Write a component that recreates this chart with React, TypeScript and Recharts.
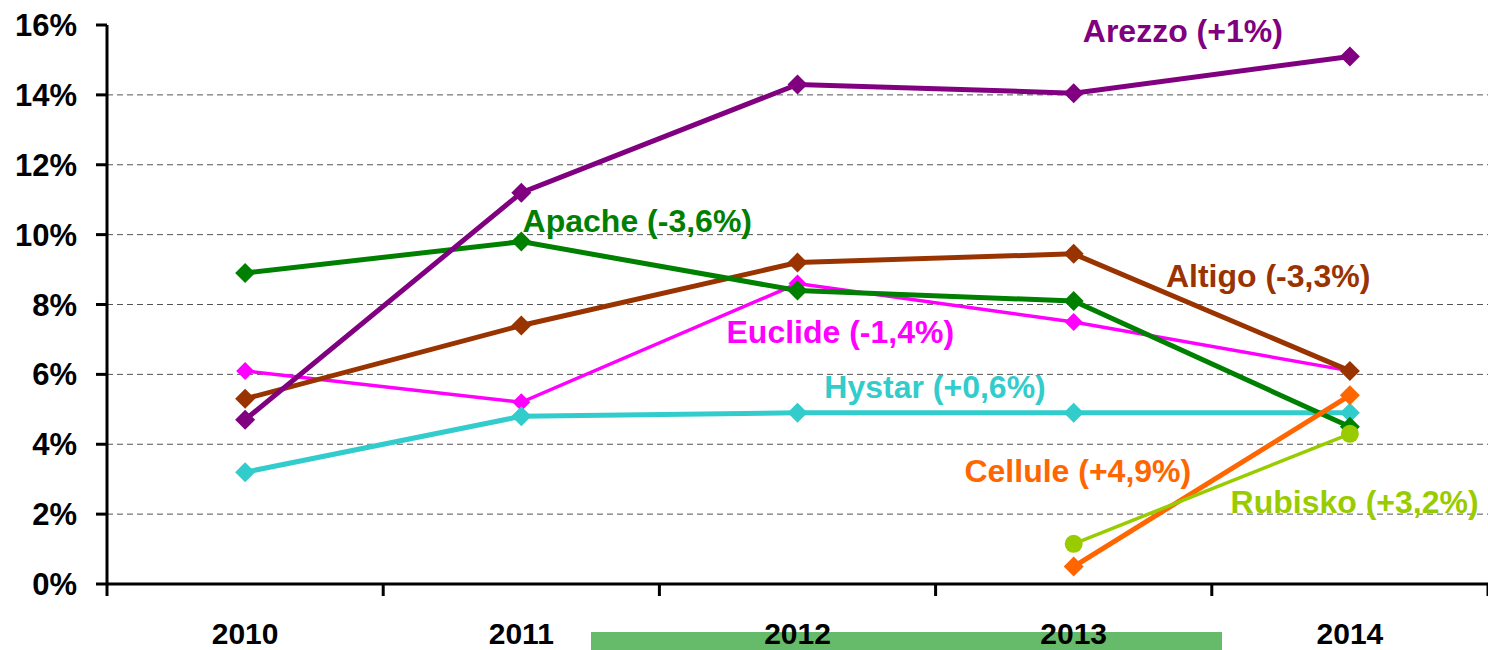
import React from "react";
import { LineChart, Line, XAxis, YAxis, ReferenceLine, ReferenceDot } from "recharts";

const YEARS = ["2010", "2011", "2012", "2013", "2014"];
const AREZZO = [4.7, 11.2, 14.3, 14.05, 15.1];
const APACHE = [8.9, 9.8, 8.4, 8.1, 4.5];
const ALTIGO = [5.3, 7.4, 9.2, 9.45, 6.1];
const EUCLIDE = [6.1, 5.2, 8.6, 7.5, 6.1];
const HYSTAR = [3.2, 4.8, 4.9, 4.9, 4.9];
const CELLULE = [null, null, null, 0.5, 5.4];
const RUBISKO = [null, null, null, 1.15, 4.3];

const Y_TICKS = [0, 2, 4, 6, 8, 10, 12, 14, 16];
const GRID = [2, 4, 6, 8, 10, 12, 14];
// boundaries (integers) get a tick mark, centres (halves) get the year
const X_TICKS = [0, 0.5, 1, 1.5, 2, 2.5, 3, 3.5, 4, 4.5, 5];

const LABELS = [
  { text: "Arezzo (+1%)", color: "#800080", x: 3.895, y: 15.51 },
  { text: "Apache (-3,6%)", color: "#008000", x: 1.92, y: 10.07 },
  { text: "Altigo (-3,3%)", color: "#993300", x: 4.204, y: 8.5 },
  { text: "Euclide (-1,4%)", color: "#FF00FF", x: 2.655, y: 6.9 },
  { text: "Hystar (+0,6%)", color: "#33CCCC", x: 2.998, y: 5.32 },
  { text: "Cellule (+4,9%)", color: "#FF6600", x: 3.515, y: 2.92 },
  { text: "Rubisko (+3,2%)", color: "#99CC00", x: 4.517, y: 2.03 },
];

const data = YEARS.map((year, i) => ({
  pos: i + 0.5,
  year,
  arezzo: AREZZO[i],
  apache: APACHE[i],
  altigo: ALTIGO[i],
  euclide: EUCLIDE[i],
  hystar: HYSTAR[i],
  cellule: CELLULE[i],
  rubisko: RUBISKO[i],
}));

const FONT = "'Liberation Sans', Arial, sans-serif";

const diamond = (color: string, h: number) => (p: any) => {
  const { cx, cy, index, dataKey } = p;
  if (cy == null || p.value == null) return <g key={`${dataKey}-${index}`} />;
  return (
    <polygon
      key={`${dataKey}-${index}`}
      points={`${cx},${cy - h} ${cx + h},${cy} ${cx},${cy + h} ${cx - h},${cy}`}
      fill={color}
    />
  );
};

const circle = (color: string, r: number) => (p: any) => {
  const { cx, cy, index, dataKey } = p;
  if (cy == null || p.value == null) return <g key={`${dataKey}-${index}`} />;
  return <circle key={`${dataKey}-${index}`} cx={cx} cy={cy} r={r} fill={color} />;
};

function XTick({ x, y, payload }: any) {
  const v = payload.value;
  if (Number.isInteger(v)) {
    return <line x1={x} x2={x} y1={y} y2={y + 12} stroke="#000" strokeWidth={3} />;
  }
  return (
    <text x={x} y={y + 60} textAnchor="middle" fontFamily={FONT} fontWeight="bold" fontSize={30} fill="#000">
      {YEARS[Math.floor(v)]}
    </text>
  );
}

export default function App() {
  return (
    <div style={{ position: "relative", width: 1488, height: 650, background: "#fff" }}>
      <style>{"body{margin:0}"}</style>
      <div style={{ position: "absolute", left: 591, top: 632, width: 631, height: 18, background: "#66BB6A" }} />
      <div style={{ position: "absolute", left: 0, top: 0 }}>
        <LineChart width={1488} height={650} data={data} margin={{ top: 25, right: 0, bottom: 0, left: 0 }}>
          <XAxis
            type="number"
            dataKey="pos"
            domain={[0, 5]}
            ticks={X_TICKS}
            interval={0}
            tick={<XTick />}
            tickLine={false}
            tickSize={0}
            tickMargin={0}
            axisLine={{ stroke: "#000", strokeWidth: 3 }}
            height={66}
          />
          <YAxis
            domain={[0, 16]}
            ticks={Y_TICKS}
            interval={0}
            width={107}
            tickFormatter={(v) => `${v}%`}
            tick={{ fill: "#000", fontSize: 31, fontWeight: "bold", fontFamily: FONT }}
            tickSize={11}
            tickMargin={19}
            tickLine={{ stroke: "#000", strokeWidth: 3 }}
            axisLine={{ stroke: "#000", strokeWidth: 3 }}
          />
          {GRID.map((v) => (
            <ReferenceLine key={v} y={v} stroke="#555" strokeDasharray="6 4" strokeWidth={1} />
          ))}
          <Line dataKey="euclide" stroke="#FF00FF" strokeWidth={3.5} dot={diamond("#FF00FF", 9)} isAnimationActive={false} />
          <Line dataKey="hystar" stroke="#33CCCC" strokeWidth={5} dot={diamond("#33CCCC", 10)} isAnimationActive={false} />
          <Line dataKey="altigo" stroke="#993300" strokeWidth={5} dot={diamond("#993300", 10)} isAnimationActive={false} />
          <Line dataKey="apache" stroke="#008000" strokeWidth={5} dot={diamond("#008000", 10)} isAnimationActive={false} />
          <Line dataKey="arezzo" stroke="#800080" strokeWidth={5} dot={diamond("#800080", 10)} isAnimationActive={false} />
          <Line dataKey="cellule" stroke="#FF6600" strokeWidth={5} dot={diamond("#FF6600", 10)} isAnimationActive={false} />
          <Line dataKey="rubisko" stroke="#99CC00" strokeWidth={3.5} dot={circle("#99CC00", 9)} isAnimationActive={false} />
          {LABELS.map((l) => (
            <ReferenceDot
              key={l.text}
              x={l.x}
              y={l.y}
              r={0}
              fill="none"
              stroke="none"
              label={(props: any) => {
                const vb = props.viewBox || {};
                return (
                  <text
                    x={(vb.x ?? 0) + (vb.width ?? 0) / 2}
                    y={(vb.y ?? 0) + (vb.height ?? 0) / 2}
                    textAnchor="middle"
                    fontFamily={FONT}
                    fontWeight="bold"
                    fontSize={32}
                    fill={l.color}
                  >
                    {l.text}
                  </text>
                );
              }}
            />
          ))}
        </LineChart>
      </div>
    </div>
  );
}
